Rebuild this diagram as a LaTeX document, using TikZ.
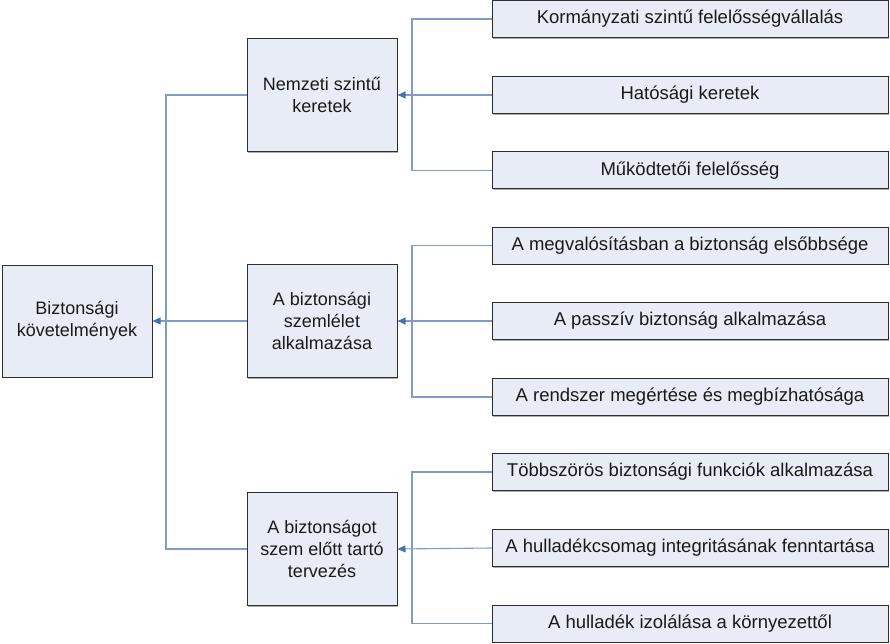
\documentclass[tikz,border=0pt]{standalone}
\usepackage{fontspec}
\setmainfont{Liberation Sans}
\usetikzlibrary{arrows.meta,shadows}
\definecolor{boxfill}{HTML}{E8ECF6}
\definecolor{boxline}{HTML}{2E2E2E}
\definecolor{connline}{HTML}{7E9CC4}
\definecolor{arrcol}{HTML}{4A72AA}
\definecolor{txt}{HTML}{1A1A1A}
\begin{document}
\begin{tikzpicture}[x=1pt,y=-1pt,
  boxbase/.style={draw=boxline,line width=1pt,fill=boxfill,text=txt,align=center,
    inner sep=0pt,font=\fontsize{18}{22}\selectfont,
    drop shadow={shadow xshift=1.2pt,shadow yshift=-1.2pt,fill=gray!80,opacity=0.8}},
  rootbox/.style={boxbase,minimum width=150pt,minimum height=112pt},
  midbox/.style={boxbase,minimum width=150pt,minimum height=113pt},
  leafbox/.style={boxbase,minimum width=396pt,minimum height=37pt,font=\fontsize{18.5}{22}\selectfont},
  conn/.style={draw=connline,line width=1.1pt},
  arr/.style={-{Triangle[length=8pt,width=7pt,color=arrcol]}}]
\useasboundingbox (0,0) rectangle (890,644);
\node[rootbox] (root) at (77,321) {Biztonsági\\követelmények};
\node[midbox] (m1) at (322,95) {Nemzeti szintű\\keretek};
\node[midbox] (m2) at (322,321) {A biztonsági\\szemlélet\\alkalmazása};
\node[midbox] (m3) at (322,549) {A biztonságot\\szem előtt tartó\\tervezés};
\node[leafbox] (l1) at (690,19) {Kormányzati szintű felelősségvállalás};
\node[leafbox] (l2) at (690,95) {Hatósági keretek};
\node[leafbox] (l3) at (690,170.5) {Működtetői felelősség};
\node[leafbox] (l4) at (690,245.5) {A megvalósításban a biztonság elsőbbsége};
\node[leafbox] (l5) at (690,321) {A passzív biztonság alkalmazása};
\node[leafbox] (l6) at (690,397) {A rendszer megértése és megbízhatósága};
\node[leafbox] (l7) at (690,472) {Többszörös biztonsági funkciók alkalmazása};
\node[leafbox] (l8) at (690,548) {A hulladékcsomag integritásának fenntartása};
\node[leafbox] (l9) at (690,623.5) {A hulladék izolálása a környezettől};
\coordinate (tr) at (166,0);
\coordinate (b) at (412,0);
% trunk to root
\draw[conn] (m1.west) -- (m1.west -| tr) -- (m3.west -| tr) -- (m3.west);
\draw[conn,arr] (m2.west) -- (root.east);
% group 1
\draw[conn] (l1.west) -- (l1.west -| b) -- (l3.west -| b) -- (l3.west);
\draw[conn,arr] (l2.west) -- (m1.east);
% group 2
\draw[conn] (l4.west) -- (l4.west -| b) -- (l6.west -| b) -- (l6.west);
\draw[conn,arr] (l5.west) -- (m2.east);
% group 3
\draw[conn] (l7.west) -- (l7.west -| b) -- (l9.west -| b) -- (l9.west);
\draw[conn,arr] (l8.west) -- (m3.east);
\end{tikzpicture}
\end{document}
